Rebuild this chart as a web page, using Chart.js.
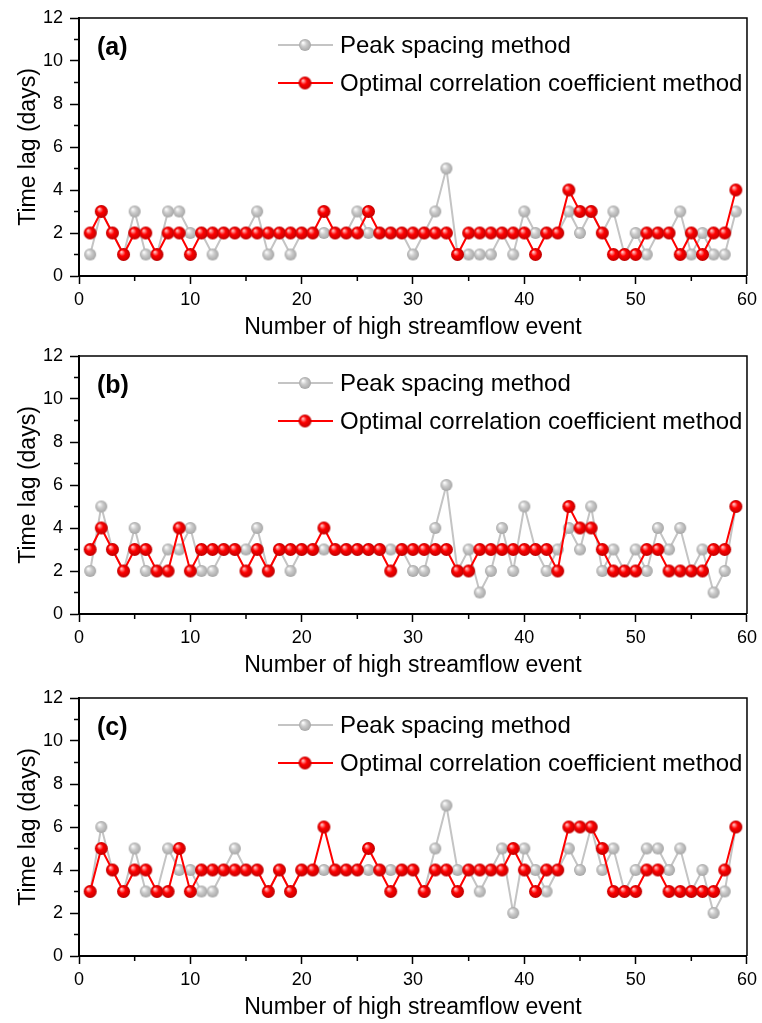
<!DOCTYPE html>
<html>
<head>
<meta charset="utf-8">
<script src="https://cdn.jsdelivr.net/npm/chart.js@4.4.0/dist/chart.umd.min.js"></script>
<style>
  html, body { margin: 0; padding: 0; background: #fff; }
  .wrap { position: relative; width: 762px; height: 1023px; }
  canvas { position: absolute; left: 0; }
</style>
</head>
<body>
<div class="wrap">
  <canvas id="panelA" width="762" height="343" style="top:0px"></canvas>
  <canvas id="panelB" width="762" height="343" style="top:338px"></canvas>
  <canvas id="panelC" width="762" height="343" style="top:680px"></canvas>
</div>
<script>
const eventNumbers = [1, 2, 3, 4, 5, 6, 7, 8, 9, 10, 11, 12, 13, 14, 15, 16, 17, 18, 19, 20,
  21, 22, 23, 24, 25, 26, 27, 28, 29, 30, 31, 32, 33, 34, 35, 36, 37, 38, 39, 40,
  41, 42, 43, 44, 45, 46, 47, 48, 49, 50, 51, 52, 53, 54, 55, 56, 57, 58, 59];

// panel (a)
const peakA = [1, 3, 2, 1, 3, 1, 1, 3, 3, 2, 2, 1, 2, 2, 2, 3, 1, 2, 1, 2,
  2, 2, 2, 2, 3, 2, 2, 2, 2, 1, 2, 3, 5, 1, 1, 1, 1, 2, 1, 3,
  2, 2, 2, 3, 2, 3, 2, 3, 1, 2, 1, 2, 2, 3, 1, 2, 1, 1, 3];
const optimalA = [2, 3, 2, 1, 2, 2, 1, 2, 2, 1, 2, 2, 2, 2, 2, 2, 2, 2, 2, 2,
  2, 3, 2, 2, 2, 3, 2, 2, 2, 2, 2, 2, 2, 1, 2, 2, 2, 2, 2, 2,
  1, 2, 2, 4, 3, 3, 2, 1, 1, 1, 2, 2, 2, 1, 2, 1, 2, 2, 4];

// panel (b)
const peakB = [2, 5, 3, 2, 4, 2, 2, 3, 3, 4, 2, 2, 3, 3, 3, 4, 2, 3, 2, 3,
  3, 3, 3, 3, 3, 3, 3, 3, 3, 2, 2, 4, 6, 2, 3, 1, 2, 4, 2, 5,
  3, 2, 3, 4, 3, 5, 2, 3, 2, 3, 2, 4, 3, 4, 2, 3, 1, 2, 5];
const optimalB = [3, 4, 3, 2, 3, 3, 2, 2, 4, 2, 3, 3, 3, 3, 2, 3, 2, 3, 3, 3,
  3, 4, 3, 3, 3, 3, 3, 2, 3, 3, 3, 3, 3, 2, 2, 3, 3, 3, 3, 3,
  3, 3, 2, 5, 4, 4, 3, 2, 2, 2, 3, 3, 2, 2, 2, 2, 3, 3, 5];

// panel (c)
const peakC = [3, 6, 4, 3, 5, 3, 3, 5, 4, 4, 3, 3, 4, 5, 4, 4, 3, 4, 3, 4,
  4, 4, 4, 4, 4, 4, 4, 4, 4, 4, 3, 5, 7, 4, 4, 3, 4, 5, 2, 5,
  4, 3, 4, 5, 4, 6, 4, 5, 3, 4, 5, 5, 4, 5, 3, 4, 2, 3, 6];
const optimalC = [3, 5, 4, 3, 4, 4, 3, 3, 5, 3, 4, 4, 4, 4, 4, 4, 3, 4, 3, 4,
  4, 6, 4, 4, 4, 5, 4, 3, 4, 4, 3, 4, 4, 3, 4, 4, 4, 4, 5, 4,
  3, 4, 4, 6, 6, 6, 5, 3, 3, 3, 4, 4, 3, 3, 3, 3, 3, 4, 6];

const xTickValues = [0, 10, 20, 30, 40, 50, 60];
const xMinorTicks = [5, 15, 25, 35, 45, 55];
const yTickValues = [0, 2, 4, 6, 8, 10, 12];
const yMinorTicks = [1, 3, 5, 7, 9, 11];

const FONT = '"Liberation Sans", Arial, sans-serif';
Chart.defaults.font.family = FONT;
Chart.defaults.color = '#000';

// shaded "ball" markers like the original
function makeBall(r, light, base, dark) {
  const c = document.createElement('canvas');
  const s = Math.ceil(r * 2 + 2);
  c.width = s;
  c.height = s;
  const g = c.getContext('2d');
  const cx = s / 2, cy = s / 2;
  const grad = g.createRadialGradient(cx - r * 0.35, cy - r * 0.4, r * 0.05, cx, cy, r);
  grad.addColorStop(0, light);
  grad.addColorStop(0.45, base);
  grad.addColorStop(1, dark);
  g.fillStyle = grad;
  g.beginPath();
  g.arc(cx, cy, r, 0, Math.PI * 2);
  g.fill();
  return c;
}
const grayBall = makeBall(6, '#ffffff', '#cccccc', '#a6a6a6');
const redBall = makeBall(6.5, '#ffd0d0', '#ff0000', '#c00000');

// frame, minor ticks, panel letter and the legend inside the plot
const decorPlugin = {
  id: 'decor',
  afterDraw(chart, args, opts) {
    const {ctx, chartArea: a, scales: {x, y}} = chart;
    ctx.save();
    ctx.strokeStyle = '#000';
    ctx.lineWidth = 1.5;
    ctx.beginPath();
    ctx.moveTo(a.left, a.top);
    ctx.lineTo(a.right, a.top);
    ctx.lineTo(a.right, a.bottom);
    ctx.stroke();

    ctx.lineWidth = 1.5;
    ctx.beginPath();
    xMinorTicks.forEach(v => {
      const px = x.getPixelForValue(v);
      ctx.moveTo(px, a.bottom);
      ctx.lineTo(px, a.bottom + 5);
    });
    yMinorTicks.forEach(v => {
      const py = y.getPixelForValue(v);
      ctx.moveTo(a.left, py);
      ctx.lineTo(a.left - 5, py);
    });
    ctx.stroke();

    ctx.fillStyle = '#000';
    ctx.textBaseline = 'middle';
    ctx.font = 'bold 25px ' + FONT;
    ctx.fillText(opts.label, a.left + 18, a.top + 30);

    ctx.font = '24px ' + FONT;
    chart.data.datasets.forEach((ds, i) => {
      const rowY = a.top + 27 + i * 38;
      ctx.strokeStyle = ds.borderColor;
      ctx.lineWidth = 2;
      ctx.beginPath();
      ctx.moveTo(a.left + 199, rowY);
      ctx.lineTo(a.left + 254, rowY);
      ctx.stroke();
      const ball = ds.pointStyle;
      ctx.drawImage(ball, a.left + 226 - ball.width / 2, rowY - ball.height / 2);
      ctx.fillText(ds.label, a.left + 261, rowY + 1);
    });
    ctx.restore();
  }
};

function buildPanel(id, label, peak, optimal) {
  return new Chart(document.getElementById(id), {
    type: 'line',
    data: {
      labels: eventNumbers,
      datasets: [
        {
          label: 'Peak spacing method',
          data: peak,
          borderColor: '#c4c4c4',
          borderWidth: 2,
          pointStyle: grayBall,
          pointRadius: 6,
          order: 1
        },
        {
          label: 'Optimal correlation coefficient method',
          data: optimal,
          borderColor: '#ff0000',
          borderWidth: 2,
          pointStyle: redBall,
          pointRadius: 6,
          order: 0
        }
      ]
    },
    options: {
      responsive: false,
      animation: false,
      devicePixelRatio: 1,
      layout: {padding: {top: 18, right: 11, left: 0, bottom: 0}},
      elements: {line: {tension: 0}},
      plugins: {
        legend: {display: false},
        tooltip: {enabled: false},
        decor: {label: label}
      },
      scales: {
        x: {
          type: 'linear',
          min: 0,
          max: 60,
          afterBuildTicks: s => { s.ticks = xTickValues.map(v => ({value: v})); },
          afterFit: s => { s.height = 67; },
          ticks: {font: {size: 18}, padding: 5, maxRotation: 0, minRotation: 0},
          grid: {drawOnChartArea: false, tickLength: 8, tickColor: '#000', tickWidth: 1.5},
          border: {display: true, color: '#000', width: 2},
          title: {
            display: true,
            text: 'Number of high streamflow event',
            font: {size: 23},
            padding: {top: 0, bottom: 2}
          }
        },
        y: {
          min: 0,
          max: 12,
          afterBuildTicks: s => { s.ticks = yTickValues.map(v => ({value: v})); },
          afterFit: s => { s.width = 79; },
          ticks: {font: {size: 18}, padding: 7},
          grid: {drawOnChartArea: false, tickLength: 9, tickColor: '#000', tickWidth: 1.5},
          border: {display: true, color: '#000', width: 2},
          title: {
            display: true,
            text: 'Time lag (days)',
            font: {size: 23},
            padding: {top: 15, bottom: 0}
          }
        }
      }
    },
    plugins: [decorPlugin]
  });
}

buildPanel('panelA', '(a)', peakA, optimalA);
buildPanel('panelB', '(b)', peakB, optimalB);
buildPanel('panelC', '(c)', peakC, optimalC);
</script>
</body>
</html>
